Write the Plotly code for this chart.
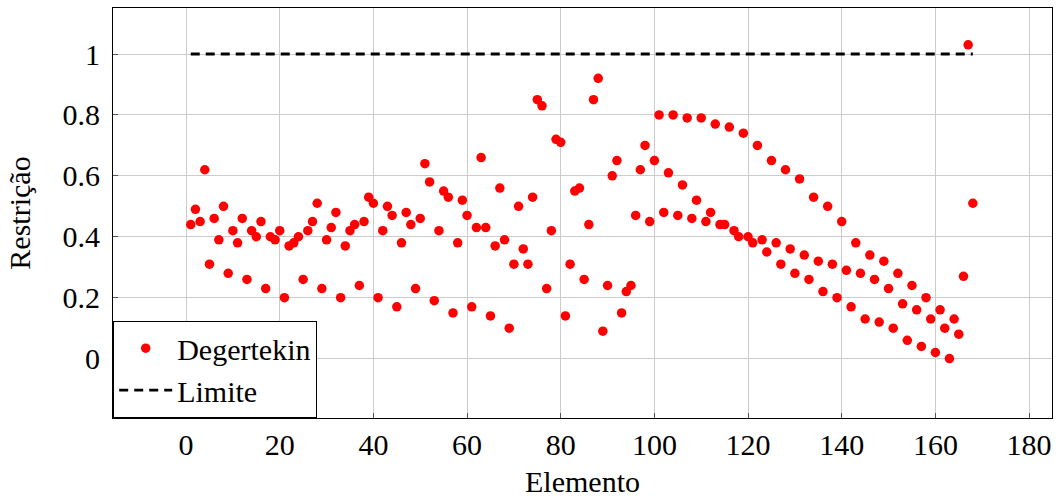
import plotly.graph_objects as go

elementos = list(range(1, 169))
restricao = [
    0.44, 0.49, 0.45, 0.62, 0.31, 0.46, 0.39, 0.50, 0.28, 0.42,
    0.38, 0.46, 0.26, 0.42, 0.40, 0.45, 0.23, 0.40, 0.39, 0.42,
    0.20, 0.37, 0.38, 0.40, 0.26, 0.42, 0.45, 0.51, 0.23, 0.39,
    0.43, 0.48, 0.20, 0.37, 0.42, 0.44, 0.24, 0.45, 0.53, 0.51,
    0.20, 0.42, 0.50, 0.47, 0.17, 0.38, 0.48, 0.44, 0.23, 0.46,
    0.64, 0.58, 0.19, 0.42, 0.55, 0.53, 0.15, 0.38, 0.52, 0.47,
    0.17, 0.43, 0.66, 0.43, 0.14, 0.37, 0.56, 0.39, 0.10, 0.31,
    0.50, 0.36, 0.31, 0.53, 0.85, 0.83, 0.23, 0.42, 0.72, 0.71,
    0.14, 0.31, 0.55, 0.56, 0.26, 0.44, 0.85, 0.92, 0.09, 0.24,
    0.60, 0.65, 0.15, 0.22, 0.24, 0.47, 0.62, 0.70, 0.45, 0.65,
    0.80, 0.48, 0.61, 0.80, 0.47, 0.57, 0.79, 0.46, 0.52, 0.79,
    0.45, 0.48, 0.77, 0.44, 0.44, 0.76, 0.42, 0.40, 0.74, 0.40,
    0.38, 0.70, 0.39, 0.35, 0.65, 0.38, 0.31, 0.62, 0.36, 0.28,
    0.59, 0.34, 0.26, 0.53, 0.32, 0.22, 0.50, 0.31, 0.20, 0.45,
    0.29, 0.17, 0.38, 0.28, 0.13, 0.34, 0.26, 0.12, 0.32, 0.23,
    0.10, 0.28, 0.18, 0.06, 0.24, 0.16, 0.04, 0.20, 0.13, 0.02,
    0.16, 0.10, 0.00, 0.13, 0.08, 0.27, 1.03, 0.51,
]
limite_x = [1, 168]
limite_y = [1, 1]

FONT = "Liberation Serif"
FS = 30

fig = go.Figure()
fig.add_trace(go.Scatter(
    x=elementos, y=restricao, mode="markers", name="Degertekin",
    marker=dict(color="#ff0000", size=9.5, line=dict(width=0)),
))
fig.add_trace(go.Scatter(
    x=limite_x, y=limite_y, mode="lines", name="Limite",
    line=dict(color="black", width=2.8, dash="9px,6px"),
))

axis_common = dict(
    showgrid=True, gridcolor="#cccccc", gridwidth=1,
    showline=True, linecolor="black", linewidth=1.2, mirror=True,
    ticks="inside", ticklen=5, tickcolor="#555555", tickwidth=1,
    zeroline=False,
    tickfont=dict(family=FONT, size=FS, color="black"),
)

fig.update_layout(
    width=1060, height=502,
    margin=dict(l=113, r=8, t=8, b=84),
    paper_bgcolor="white", plot_bgcolor="white",
    font=dict(family=FONT, size=FS, color="black"),
    showlegend=True,
    legend=dict(
        x=0, y=0, xanchor="left", yanchor="bottom",
        bgcolor="white", bordercolor="black", borderwidth=1.2,
        font=dict(family=FONT, size=FS, color="black"),
        itemwidth=53, tracegroupgap=0,
    ),
    xaxis=dict(
        range=[-15.6, 184.9], dtick=20, tick0=0,
        title=dict(text="Elemento", font=dict(family=FONT, size=FS), standoff=10),
        **axis_common,
    ),
    yaxis=dict(
        range=[-0.195, 1.151], dtick=0.2, tick0=0,
        title=dict(text="Restrição", font=dict(family=FONT, size=FS), standoff=22),
        ticklabelstandoff=6,
        **axis_common,
    ),
)

fig.write_html("out.html")
